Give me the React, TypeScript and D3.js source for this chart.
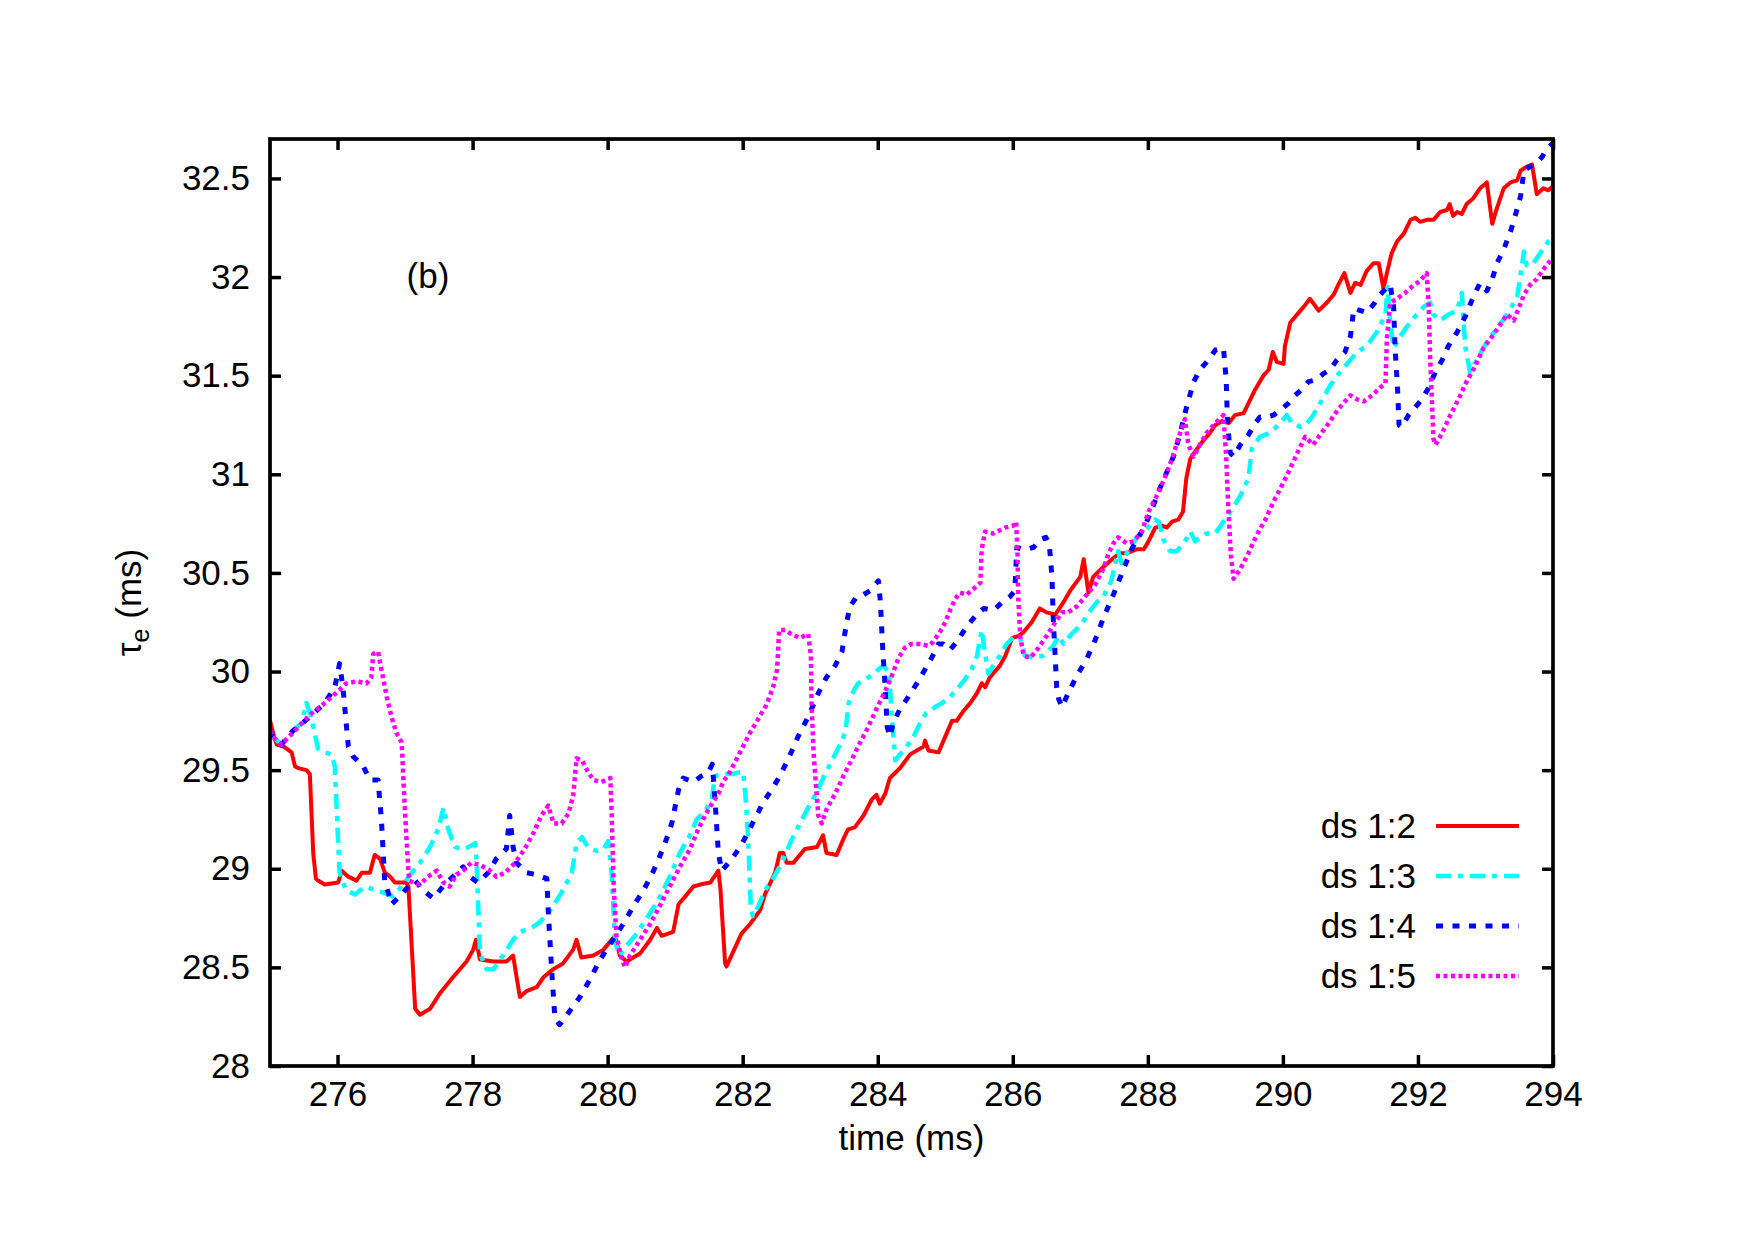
import React, { useEffect, useRef } from "react";
import * as d3 from "d3";

type Pt = [number, number];

// tau_e (ms) versus time (ms) for each down-sampling ratio
const ds12: Pt[] = [
  [275.0, 29.75], [275.06, 29.67], [275.1, 29.63], [275.2, 29.62], [275.32, 29.59], [275.37, 29.52],
  [275.42, 29.51], [275.54, 29.5], [275.59, 29.48], [275.64, 29.08], [275.68, 28.95], [275.71, 28.94],
  [275.81, 28.92], [276.01, 28.93], [276.06, 28.99], [276.16, 28.96], [276.28, 28.94], [276.36, 28.98],
  [276.48, 28.98], [276.55, 29.07], [276.63, 29.05], [276.7, 28.98], [276.78, 28.96], [276.85, 28.93],
  [277.02, 28.93], [277.05, 28.91], [277.15, 28.29], [277.22, 28.26], [277.37, 28.29], [277.52, 28.37],
  [277.71, 28.45], [277.91, 28.53], [278.01, 28.59], [278.05, 28.64], [278.11, 28.54], [278.31, 28.53],
  [278.5, 28.53], [278.6, 28.56], [278.7, 28.35], [278.8, 28.38], [278.95, 28.4], [279.05, 28.45],
  [279.19, 28.49], [279.34, 28.52], [279.49, 28.59], [279.54, 28.64], [279.61, 28.55], [279.79, 28.56],
  [279.94, 28.59], [280.11, 28.66], [280.18, 28.56], [280.28, 28.53], [280.48, 28.57], [280.63, 28.64],
  [280.73, 28.7], [280.8, 28.66], [280.97, 28.68], [281.05, 28.82], [281.15, 28.86], [281.27, 28.91],
  [281.37, 28.92], [281.52, 28.93], [281.64, 28.99], [281.67, 28.9], [281.74, 28.52], [281.76, 28.505],
  [281.86, 28.58], [281.98, 28.67], [282.11, 28.72], [282.26, 28.79], [282.33, 28.87], [282.48, 28.98],
  [282.55, 29.08], [282.6, 29.08], [282.65, 29.03], [282.75, 29.03], [282.92, 29.1], [283.1, 29.11],
  [283.19, 29.17], [283.24, 29.08], [283.39, 29.07], [283.49, 29.15], [283.56, 29.2], [283.66, 29.21],
  [283.79, 29.27], [283.91, 29.35], [283.98, 29.375], [284.03, 29.33], [284.11, 29.38], [284.18, 29.46],
  [284.33, 29.51], [284.48, 29.58], [284.68, 29.62], [284.7, 29.65], [284.75, 29.6], [284.9, 29.59],
  [285.0, 29.67], [285.1, 29.75], [285.17, 29.75], [285.27, 29.8], [285.37, 29.84], [285.47, 29.89],
  [285.54, 29.94], [285.59, 29.92], [285.66, 29.97], [285.81, 30.03], [285.89, 30.08], [285.99, 30.17],
  [286.08, 30.18], [286.16, 30.2], [286.28, 30.25], [286.4, 30.32], [286.5, 30.3], [286.63, 30.29],
  [286.73, 30.34], [286.85, 30.41], [287.0, 30.48], [287.05, 30.57], [287.12, 30.4], [287.19, 30.48],
  [287.34, 30.53], [287.49, 30.575], [287.59, 30.6], [287.69, 30.6], [287.84, 30.62], [287.94, 30.62],
  [288.01, 30.66], [288.11, 30.73], [288.21, 30.74], [288.28, 30.73], [288.36, 30.76], [288.45, 30.77],
  [288.52, 30.81], [288.57, 30.98], [288.63, 31.08], [288.73, 31.13], [288.82, 31.17], [288.92, 31.21],
  [289.0, 31.25], [289.1, 31.27], [289.2, 31.26], [289.29, 31.3], [289.42, 31.31], [289.49, 31.36],
  [289.59, 31.43], [289.71, 31.5], [289.79, 31.53], [289.85, 31.62], [289.91, 31.57], [290.01, 31.56],
  [290.03, 31.65], [290.11, 31.77], [290.21, 31.81], [290.31, 31.85], [290.4, 31.89], [290.53, 31.83],
  [290.65, 31.87], [290.75, 31.91], [290.82, 31.96], [290.91, 32.02], [291.0, 31.92], [291.07, 31.97],
  [291.15, 31.96], [291.24, 32.03], [291.34, 32.07], [291.42, 32.07], [291.49, 31.94], [291.54, 32.02],
  [291.61, 32.12], [291.69, 32.18], [291.79, 32.22], [291.89, 32.29], [291.96, 32.3], [292.03, 32.28],
  [292.13, 32.29], [292.23, 32.29], [292.33, 32.33], [292.43, 32.34], [292.47, 32.37], [292.52, 32.31],
  [292.58, 32.33], [292.65, 32.32], [292.72, 32.37], [292.82, 32.4], [292.92, 32.45], [293.02, 32.48],
  [293.1, 32.27], [293.17, 32.35], [293.27, 32.45], [293.37, 32.48], [293.47, 32.49], [293.52, 32.54],
  [293.61, 32.56], [293.69, 32.57], [293.76, 32.42], [293.86, 32.45], [293.93, 32.44], [294.0, 32.46],
];

const ds13: Pt[] = [
  [275.0, 29.7], [275.04, 29.67], [275.17, 29.63], [275.34, 29.7], [275.47, 29.74], [275.54, 29.84],
  [275.61, 29.77], [275.71, 29.61], [275.81, 29.59], [275.91, 29.58], [275.96, 29.52], [276.03, 28.98],
  [276.07, 28.94], [276.13, 28.89], [276.26, 28.87], [276.33, 28.89], [276.43, 28.91], [276.55, 28.89],
  [276.68, 28.88], [276.82, 28.86], [276.97, 28.92], [277.1, 28.98], [277.22, 29.03], [277.37, 29.11],
  [277.49, 29.2], [277.57, 29.31], [277.64, 29.2], [277.74, 29.11], [277.84, 29.1], [277.94, 29.11],
  [278.04, 29.13], [278.06, 29.03], [278.11, 28.57], [278.21, 28.49], [278.31, 28.49], [278.45, 28.56],
  [278.6, 28.64], [278.7, 28.68], [278.87, 28.7], [279.0, 28.73], [279.15, 28.79], [279.32, 28.88],
  [279.47, 28.98], [279.54, 29.13], [279.62, 29.16], [279.71, 29.11], [279.84, 29.09], [279.94, 29.1],
  [280.01, 29.14], [280.06, 28.98], [280.11, 28.63], [280.18, 28.56], [280.28, 28.61], [280.43, 28.67],
  [280.6, 28.76], [280.75, 28.84], [280.92, 28.96], [281.07, 29.08], [281.22, 29.17], [281.32, 29.25],
  [281.44, 29.29], [281.54, 29.35], [281.59, 29.47], [281.69, 29.48], [281.84, 29.48], [281.96, 29.49],
  [282.01, 29.49], [282.05, 29.33], [282.08, 29.16], [282.12, 28.81], [282.15, 28.76], [282.23, 28.81],
  [282.33, 28.89], [282.45, 28.95], [282.58, 29.03], [282.73, 29.15], [282.85, 29.23], [282.97, 29.31],
  [283.1, 29.39], [283.22, 29.48], [283.34, 29.56], [283.47, 29.65], [283.52, 29.69], [283.57, 29.84],
  [283.64, 29.9], [283.71, 29.94], [283.81, 29.96], [283.91, 29.98], [284.01, 30.01], [284.08, 30.03],
  [284.16, 30.0], [284.18, 29.92], [284.21, 29.77], [284.26, 29.55], [284.33, 29.58], [284.43, 29.62],
  [284.53, 29.67], [284.63, 29.74], [284.72, 29.79], [284.85, 29.82], [284.95, 29.84], [285.07, 29.87],
  [285.17, 29.91], [285.27, 29.95], [285.39, 30.01], [285.47, 30.08], [285.54, 30.21], [285.59, 30.09],
  [285.64, 29.99], [285.71, 30.03], [285.81, 30.08], [285.91, 30.14], [286.03, 30.18], [286.11, 30.17],
  [286.18, 30.08], [286.31, 30.07], [286.45, 30.08], [286.6, 30.13], [286.68, 30.18], [286.75, 30.14],
  [286.87, 30.19], [287.02, 30.24], [287.15, 30.31], [287.24, 30.35], [287.34, 30.38], [287.46, 30.46],
  [287.56, 30.61], [287.61, 30.55], [287.69, 30.6], [287.84, 30.68], [287.98, 30.72], [288.11, 30.77],
  [288.16, 30.76], [288.23, 30.67], [288.33, 30.61], [288.43, 30.61], [288.55, 30.66], [288.63, 30.71],
  [288.7, 30.66], [288.78, 30.68], [288.87, 30.7], [289.0, 30.7], [289.12, 30.76], [289.24, 30.82],
  [289.37, 30.89], [289.49, 30.98], [289.54, 31.13], [289.66, 31.19], [289.81, 31.21], [289.96, 31.26],
  [290.06, 31.3], [290.13, 31.26], [290.21, 31.25], [290.26, 31.24], [290.36, 31.26], [290.45, 31.3],
  [290.55, 31.36], [290.7, 31.45], [290.85, 31.52], [291.0, 31.58], [291.1, 31.62], [291.24, 31.65],
  [291.39, 31.72], [291.52, 31.81], [291.55, 31.95], [291.59, 31.77], [291.64, 31.64], [291.74, 31.7],
  [291.84, 31.75], [291.96, 31.8], [292.09, 31.85], [292.18, 31.87], [292.23, 31.81], [292.33, 31.78],
  [292.45, 31.81], [292.58, 31.83], [292.65, 31.92], [292.7, 31.65], [292.77, 31.52], [292.87, 31.58],
  [293.02, 31.67], [293.17, 31.74], [293.32, 31.81], [293.47, 31.9], [293.57, 32.13], [293.61, 32.06],
  [293.71, 32.07], [293.81, 32.12], [293.93, 32.18], [294.0, 32.2],
];

const ds14: Pt[] = [
  [275.0, 29.7], [275.04, 29.67], [275.17, 29.63], [275.34, 29.7], [275.59, 29.77], [275.81, 29.84],
  [275.96, 29.92], [276.03, 30.04], [276.08, 29.92], [276.16, 29.62], [276.23, 29.57], [276.38, 29.52],
  [276.48, 29.45], [276.6, 29.45], [276.65, 29.25], [276.7, 28.93], [276.75, 28.88], [276.8, 28.82],
  [276.92, 28.86], [277.05, 28.91], [277.15, 28.94], [277.27, 28.89], [277.42, 28.85], [277.56, 28.91],
  [277.71, 28.96], [277.86, 29.01], [277.96, 28.96], [278.08, 28.93], [278.23, 28.98], [278.35, 29.05],
  [278.5, 29.1], [278.55, 29.27], [278.6, 29.11], [278.65, 29.03], [278.8, 28.98], [278.95, 28.97],
  [279.1, 28.95], [279.12, 28.79], [279.17, 28.49], [279.22, 28.24], [279.29, 28.21], [279.42, 28.27],
  [279.59, 28.35], [279.74, 28.44], [279.89, 28.54], [280.08, 28.64], [280.23, 28.72], [280.38, 28.81],
  [280.53, 28.89], [280.68, 28.99], [280.83, 29.11], [280.95, 29.23], [281.05, 29.4], [281.12, 29.46],
  [281.27, 29.44], [281.39, 29.47], [281.49, 29.49], [281.55, 29.53], [281.59, 29.35], [281.64, 29.08],
  [281.69, 28.99], [281.84, 29.05], [281.98, 29.12], [282.16, 29.24], [282.31, 29.34], [282.43, 29.4],
  [282.55, 29.47], [282.68, 29.56], [282.82, 29.67], [282.97, 29.77], [283.12, 29.89], [283.24, 29.97],
  [283.37, 30.03], [283.47, 30.1], [283.54, 30.25], [283.59, 30.33], [283.69, 30.38], [283.79, 30.39],
  [283.89, 30.41], [283.96, 30.44], [284.01, 30.46], [284.04, 30.35], [284.07, 30.14], [284.11, 29.92],
  [284.14, 29.72], [284.18, 29.67], [284.23, 29.74], [284.33, 29.81], [284.45, 29.87], [284.58, 29.94],
  [284.7, 30.01], [284.8, 30.07], [284.9, 30.14], [284.97, 30.14], [285.07, 30.11], [285.17, 30.15],
  [285.32, 30.23], [285.47, 30.29], [285.57, 30.32], [285.71, 30.31], [285.84, 30.35], [285.96, 30.38],
  [286.03, 30.41], [286.06, 30.63], [286.13, 30.62], [286.21, 30.62], [286.31, 30.63], [286.4, 30.67],
  [286.49, 30.68], [286.54, 30.65], [286.58, 30.48], [286.6, 30.26], [286.63, 30.06], [286.65, 29.92],
  [286.68, 29.86], [286.73, 29.82], [286.82, 29.89], [286.95, 29.98], [287.09, 30.06], [287.22, 30.16],
  [287.34, 30.27], [287.49, 30.39], [287.64, 30.52], [287.76, 30.62], [287.86, 30.68], [287.96, 30.74],
  [288.08, 30.84], [288.18, 30.93], [288.28, 31.01], [288.38, 31.09], [288.48, 31.21], [288.58, 31.35],
  [288.68, 31.47], [288.77, 31.53], [288.9, 31.58], [289.0, 31.63], [289.12, 31.64], [289.16, 31.48],
  [289.18, 31.26], [289.22, 31.11], [289.27, 31.09], [289.37, 31.15], [289.49, 31.2], [289.59, 31.26],
  [289.66, 31.29], [289.76, 31.29], [289.86, 31.3], [289.98, 31.33], [290.08, 31.36], [290.18, 31.4],
  [290.28, 31.43], [290.38, 31.47], [290.5, 31.48], [290.6, 31.51], [290.7, 31.53], [290.8, 31.58],
  [290.92, 31.62], [291.0, 31.7], [291.05, 31.84], [291.15, 31.83], [291.24, 31.82], [291.34, 31.86],
  [291.44, 31.91], [291.52, 31.94], [291.59, 31.96], [291.64, 31.85], [291.66, 31.65], [291.7, 31.42],
  [291.72, 31.25], [291.76, 31.24], [291.86, 31.3], [291.96, 31.34], [292.06, 31.38], [292.16, 31.44],
  [292.26, 31.52], [292.36, 31.58], [292.45, 31.65], [292.58, 31.72], [292.7, 31.8], [292.82, 31.9],
  [292.92, 31.97], [293.02, 31.93], [293.1, 31.99], [293.17, 32.07], [293.27, 32.14], [293.37, 32.23],
  [293.44, 32.31], [293.52, 32.41], [293.57, 32.54], [293.66, 32.56], [293.76, 32.58], [293.84, 32.61],
  [293.91, 32.65], [294.0, 32.68],
];

const ds15: Pt[] = [
  [275.0, 29.7], [275.04, 29.67], [275.17, 29.63], [275.34, 29.69], [275.59, 29.78], [275.81, 29.84],
  [276.01, 29.9], [276.13, 29.94], [276.28, 29.95], [276.43, 29.94], [276.5, 29.97], [276.53, 30.09],
  [276.6, 30.1], [276.65, 30.01], [276.73, 29.87], [276.8, 29.77], [276.87, 29.69], [276.95, 29.64],
  [276.98, 29.42], [277.02, 29.16], [277.06, 28.94], [277.12, 28.93], [277.22, 28.92], [277.34, 28.96],
  [277.47, 28.99], [277.57, 28.93], [277.66, 28.91], [277.76, 28.97], [277.86, 28.99], [277.98, 29.03],
  [278.11, 29.02], [278.26, 28.99], [278.35, 28.96], [278.48, 28.98], [278.63, 29.03], [278.77, 29.1],
  [278.9, 29.18], [279.02, 29.27], [279.12, 29.32], [279.2, 29.23], [279.32, 29.23], [279.42, 29.28],
  [279.49, 29.37], [279.54, 29.56], [279.62, 29.55], [279.71, 29.49], [279.79, 29.45], [279.91, 29.44],
  [280.04, 29.46], [280.06, 29.28], [280.09, 28.91], [280.13, 28.66], [280.21, 28.54], [280.26, 28.5],
  [280.33, 28.56], [280.48, 28.64], [280.63, 28.72], [280.77, 28.81], [280.92, 28.91], [281.07, 29.01],
  [281.22, 29.1], [281.34, 29.2], [281.49, 29.3], [281.64, 29.38], [281.71, 29.44], [281.81, 29.49],
  [281.96, 29.59], [282.11, 29.69], [282.23, 29.76], [282.35, 29.83], [282.45, 29.92], [282.51, 30.01],
  [282.54, 30.21], [282.63, 30.21], [282.72, 30.19], [282.85, 30.17], [282.97, 30.19], [283.01, 30.08],
  [283.02, 29.84], [283.05, 29.59], [283.09, 29.4], [283.12, 29.27], [283.17, 29.23], [283.24, 29.3],
  [283.37, 29.38], [283.49, 29.47], [283.61, 29.55], [283.74, 29.64], [283.86, 29.72], [283.98, 29.81],
  [284.11, 29.9], [284.21, 29.98], [284.31, 30.07], [284.4, 30.12], [284.5, 30.14], [284.63, 30.14],
  [284.75, 30.13], [284.82, 30.15], [284.92, 30.2], [285.0, 30.25], [285.07, 30.31], [285.15, 30.37],
  [285.22, 30.4], [285.32, 30.39], [285.42, 30.42], [285.52, 30.45], [285.54, 30.62], [285.59, 30.71],
  [285.71, 30.7], [285.89, 30.73], [286.01, 30.74], [286.05, 30.76], [286.07, 30.6], [286.08, 30.38],
  [286.11, 30.18], [286.16, 30.08], [286.26, 30.07], [286.38, 30.12], [286.5, 30.18], [286.63, 30.25],
  [286.73, 30.3], [286.82, 30.3], [286.95, 30.33], [287.07, 30.38], [287.22, 30.44], [287.34, 30.52],
  [287.42, 30.6], [287.49, 30.65], [287.56, 30.68], [287.69, 30.65], [287.79, 30.66], [287.91, 30.71],
  [288.01, 30.81], [288.13, 30.89], [288.26, 30.99], [288.36, 31.08], [288.45, 31.18], [288.52, 31.25],
  [288.55, 31.28], [288.6, 31.15], [288.68, 31.09], [288.77, 31.15], [288.87, 31.21], [289.0, 31.26],
  [289.12, 31.3], [289.16, 31.09], [289.19, 30.84], [289.23, 30.59], [289.27, 30.47], [289.37, 30.52],
  [289.49, 30.6], [289.61, 30.69], [289.74, 30.77], [289.86, 30.86], [289.98, 30.94], [290.11, 31.03],
  [290.23, 31.12], [290.33, 31.19], [290.45, 31.15], [290.55, 31.2], [290.68, 31.26], [290.8, 31.32],
  [290.92, 31.37], [291.0, 31.4], [291.1, 31.38], [291.2, 31.37], [291.32, 31.4], [291.44, 31.44],
  [291.52, 31.46], [291.54, 31.69], [291.59, 31.87], [291.69, 31.89], [291.81, 31.92], [291.94, 31.96],
  [292.03, 31.98], [292.13, 32.02], [292.16, 31.85], [292.18, 31.6], [292.21, 31.35], [292.23, 31.18],
  [292.26, 31.15], [292.36, 31.21], [292.48, 31.3], [292.6, 31.38], [292.72, 31.47], [292.85, 31.55],
  [292.97, 31.64], [293.1, 31.7], [293.22, 31.76], [293.32, 31.81], [293.42, 31.78], [293.49, 31.84],
  [293.57, 31.91], [293.66, 31.96], [293.76, 31.99], [293.86, 32.04], [294.0, 32.1],
];

const xTicks = d3.range(276, 295, 2);
const yTicks = d3.range(28, 32.51, 0.5);

const series = [
  { label: "ds 1:2", data: ds12, color: "#ff0000", dash: "none", width: 4 },
  { label: "ds 1:3", data: ds13, color: "#00ffff", dash: "15 7 5 7", width: 4.5 },
  { label: "ds 1:4", data: ds14, color: "#0000ff", dash: "7 9.5", width: 5 },
  { label: "ds 1:5", data: ds15, color: "#ff00ff", dash: "4 3.5", width: 4.5 },
];

const W = 1755;
const H = 1240;
const margin = { top: 139, right: 202, bottom: 174, left: 270 };
const FONT = "'Liberation Sans', Arial, Helvetica, sans-serif";
const FS = 35;

export default function App() {
  const ref = useRef<SVGSVGElement>(null);

  useEffect(() => {
    const svg = d3.select(ref.current);
    svg.selectAll("*").remove();

    const x = d3.scaleLinear().domain([275, 294]).range([margin.left, W - margin.right]);
    const y = d3.scaleLinear().domain([28, 32.7]).range([H - margin.bottom, margin.top]);
    const [x0, x1] = x.range();
    const [y0, y1] = y.range();

    svg.append("rect").attr("width", W).attr("height", H).attr("fill", "#fff");

    svg
      .append("defs")
      .append("clipPath")
      .attr("id", "plot-clip")
      .append("rect")
      .attr("x", x0)
      .attr("y", y1)
      .attr("width", x1 - x0)
      .attr("height", y0 - y1);

    // curves, drawn in key order so later ones sit on top
    const line = d3
      .line<Pt>()
      .x((d) => x(d[0]))
      .y((d) => y(d[1]));

    const curves = svg.append("g").attr("clip-path", "url(#plot-clip)");
    series.forEach((s) => {
      curves
        .append("path")
        .datum(s.data)
        .attr("d", line)
        .attr("fill", "none")
        .attr("stroke", s.color)
        .attr("stroke-width", s.width)
        .attr("stroke-dasharray", s.dash)
        .attr("stroke-linejoin", "round");
    });

    const styleAxis = (g: d3.Selection<SVGGElement, unknown, null, undefined>) => {
      g.attr("font-family", FONT).attr("font-size", FS);
      g.select(".domain").remove();
      g.selectAll(".tick line").attr("stroke", "#000").attr("stroke-width", 3.5);
      g.selectAll(".tick text").attr("fill", "#000");
    };

    // ticks point inward on all four sides
    svg
      .append("g")
      .attr("transform", `translate(0,${y0})`)
      .call(d3.axisBottom(x).tickValues(xTicks).tickSize(-11).tickPadding(15).tickFormat((d) => String(d)))
      .call(styleAxis);
    svg
      .append("g")
      .attr("transform", `translate(0,${y1})`)
      .call(d3.axisTop(x).tickValues(xTicks).tickSize(-11).tickFormat(() => ""))
      .call(styleAxis);
    svg
      .append("g")
      .attr("transform", `translate(${x0},0)`)
      .call(d3.axisLeft(y).tickValues(yTicks).tickSize(-11).tickPadding(20).tickFormat((d) => String(+(+d).toFixed(1))))
      .call(styleAxis);
    svg
      .append("g")
      .attr("transform", `translate(${x1},0)`)
      .call(d3.axisRight(y).tickValues(yTicks).tickSize(-11).tickFormat(() => ""))
      .call(styleAxis);

    svg
      .append("rect")
      .attr("x", x0)
      .attr("y", y1)
      .attr("width", x1 - x0)
      .attr("height", y0 - y1)
      .attr("fill", "none")
      .attr("stroke", "#000")
      .attr("stroke-width", 3.7);

    const text = svg.append("g").attr("font-family", FONT).attr("font-size", FS).attr("fill", "#000");

    text
      .append("text")
      .attr("x", (x0 + x1) / 2)
      .attr("y", 1150)
      .attr("text-anchor", "middle")
      .text("time (ms)");

    const yl = text
      .append("text")
      .attr("transform", `translate(141,${(y0 + y1) / 2}) rotate(-90)`)
      .attr("text-anchor", "middle");
    yl.append("tspan").text("τ");
    yl.append("tspan").attr("font-size", 25).attr("dy", 8).text("e");
    yl.append("tspan").attr("dy", -8).text(" (ms)");

    text.append("text").attr("x", 428).attr("y", 288).attr("text-anchor", "middle").text("(b)");

    // key, lower right inside the frame
    const key = svg.append("g");
    series.forEach((s, i) => {
      const cy = 826 + i * 50;
      key
        .append("text")
        .attr("x", 1416)
        .attr("y", cy + 12)
        .attr("text-anchor", "end")
        .attr("font-family", FONT)
        .attr("font-size", FS)
        .text(s.label);
      key
        .append("line")
        .attr("x1", 1436)
        .attr("x2", 1519)
        .attr("y1", cy)
        .attr("y2", cy)
        .attr("stroke", s.color)
        .attr("stroke-width", s.width)
        .attr("stroke-dasharray", s.dash);
    });
  }, []);

  return (
    <svg
      ref={ref}
      width={W}
      height={H}
      viewBox={`0 0 ${W} ${H}`}
      style={{ position: "absolute", left: 0, top: 0, display: "block" }}
    />
  );
}
